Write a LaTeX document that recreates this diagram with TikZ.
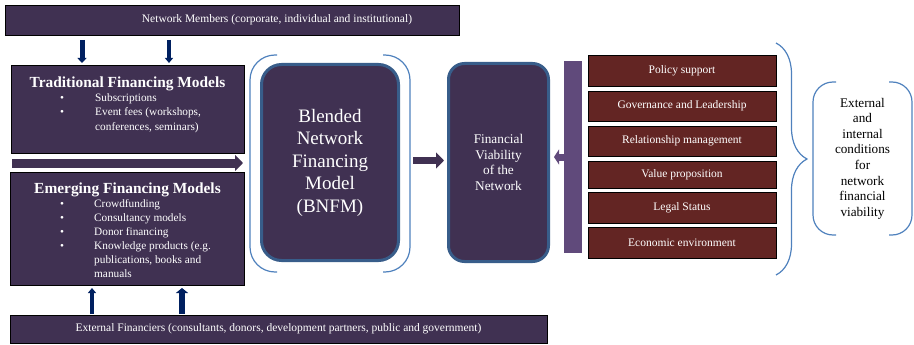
\documentclass[tikz,border=0pt]{standalone}
\usepackage{fontspec}
\setmainfont{Liberation Serif}
\usetikzlibrary{arrows.meta,decorations.pathreplacing}

\definecolor{plum}{HTML}{403152}
\definecolor{navy}{HTML}{002060}
\definecolor{steel}{HTML}{385D8A}
\definecolor{sky}{HTML}{4F81BD}
\definecolor{lilac}{HTML}{604A7B}
\definecolor{maroon}{HTML}{632523}

\begin{document}
\begin{tikzpicture}[x=1pt,y=-1pt]
    \useasboundingbox (0,0) rectangle (914,345);

    \tikzstyle{band} = [draw=black, fill=plum, line width=0.8pt, minimum height=30pt, inner sep=0pt, text=white, font=\fontsize{11.5}{13}\selectfont]
    \tikzstyle{panel} = [draw=black, fill=plum, line width=0.8pt, inner sep=0pt]
    \tikzstyle{heading} = [anchor=base, text=white, inner sep=0pt, font=\fontsize{15.4}{17}\selectfont\bfseries]
    \tikzstyle{entry} = [anchor=base west, text=white, inner sep=0pt, font=\fontsize{11.3}{13}\selectfont]
    \tikzstyle{dot} = [anchor=base, text=white, inner sep=0pt, font=\fontsize{11.3}{13}\selectfont]
    \tikzstyle{model} = [draw=steel, fill=plum, line width=3pt, rounded corners=20pt, text=white, align=center, inner sep=0pt]
    \tikzstyle{condition} = [draw=black, fill=maroon, line width=0.8pt, minimum width=188pt, text=white, inner sep=0pt, font=\fontsize{11.5}{13}\selectfont]
    \tikzstyle{bracket} = [draw=sky, line width=1.2pt]
    \tikzstyle{fat} = [plum, line width=9pt, -{Triangle[length=8pt,width=16pt]}]

    % members on top, financiers at the bottom
    \node[band, minimum width=454pt] (members) at (232,20) {};
    \node[text=white, inner sep=0pt, font=\fontsize{11.5}{13}\selectfont] (membersText) at (277,20) {Network Members (corporate, individual and institutional)};
    \node[band, minimum width=537pt, minimum height=28pt] (financiers) at (278.5,329) {External Financiers (consultants, donors, development partners, public and government)};

    % the two families of models
    \node[panel, minimum width=233pt, minimum height=88pt] (trad) at (127.5,109) {};
    \node[panel, minimum width=234pt, minimum height=113pt] (emer) at (127,228.5) {};
    \node[heading] (tradTitle) at (127.5,88) {Traditional Financing Models};
    \node[heading] (emerTitle) at (127.5,193) {Emerging Financing Models};

    \foreach \y/\t [count=\i] in {102/Subscriptions, 116/{Event fees (workshops,}, 130/{conferences, seminars)}}
        \node[entry] (trad\i) at (95,\y) {\t};
    \foreach \y/\t [count=\i] in {207/Crowdfunding, 221/Consultancy models, 235/Donor financing, 249/{Knowledge products (e.g.}, 263/{publications, books and}, 277/manuals}
        \node[entry] (emer\i) at (94,\y) {\t};
    \foreach \y [count=\i] in {102,116}
        \node[dot] (tradDot\i) at (62,\y) {\textbullet};
    \foreach \y [count=\i] in {207,221,235,249}
        \node[dot] (emerDot\i) at (62,\y) {\textbullet};

    % feeds from members and financiers
    \foreach \x/\w/\h [count=\i] in {82/5/9,169/4/8} {
        \coordinate (down\i) at (\x,40);
        \coordinate (downEnd\i) at (\x,63);
        \draw[navy, line width=\w pt, -{Triangle[length=5pt,width=\h pt]}] (down\i) -- (downEnd\i);
    }
    \foreach \x/\w/\h [count=\i] in {92/3.5/8,182/6/12} {
        \coordinate (up\i) at (\x,314);
        \coordinate (upEnd\i) at (\x,288);
        \draw[navy, line width=\w pt, -{Triangle[length=5pt,width=\h pt]}] (up\i) -- (upEnd\i);
    }

    \coordinate (split) at (12,163);
    \coordinate (splitEnd) at (243,163);
    \draw[fat] (split) -- (splitEnd);

    % blended model and viability
    \node[model, minimum width=137pt, minimum height=196pt, font=\fontsize{19}{22.5}\selectfont] (bnfm) at (330,162.5) {Blended\\Network\\Financing\\Model\\(BNFM)};
    \node[model, rounded corners=16pt, minimum width=100pt, minimum height=198pt, font=\fontsize{13.3}{15.6}\selectfont] (fv) at (498.5,162.5) {Financial\\Viability\\of the\\Network};
    \draw[fat, line width=7pt] ([xshift=13pt,yshift=2pt]bnfm.east) -- ([xshift=-3pt,yshift=2pt]fv.west);

    \draw[bracket, rounded corners=25pt] (277,55) -- (250,55) -- (250,272) -- (277,272);
    \draw[bracket, rounded corners=25pt] (383,55) -- (410,55) -- (410,272) -- (383,272);

    % conditions feeding back into viability
    \node[fill=lilac, minimum width=18pt, minimum height=192pt, inner sep=0pt] (bar) at (573,157) {};
    \coordinate (notch) at (554,157);
    \draw[lilac, line width=7pt, -{Triangle[length=5pt,width=15pt]}] (bar.west) -- (notch);

    \foreach \y/\h/\t [count=\i] in {70.5/31/Policy support, 106/30/Governance and Leadership, 141/30/Relationship management, 174.5/27/Value proposition, 207.5/31/Legal Status, 242.5/31/Economic environment}
        \node[condition, minimum height=\h pt] (cond\i) at (682,\y) {\t};

    \draw[bracket, decorate, decoration={brace, amplitude=31pt}] (776,43) -- (776,275);

    \draw[bracket, rounded corners=20pt] (836,82) -- (813,82) -- (813,235) -- (836,235);
    \draw[bracket, rounded corners=20pt] (889,82) -- (912,82) -- (912,235) -- (889,235);
    \node[align=center, inner sep=0pt, font=\fontsize{13.2}{15.6}\selectfont] (summary) at (862.5,158.5) {External\\and\\internal\\conditions\\for\\network\\financial\\viability};
\end{tikzpicture}
\end{document}
